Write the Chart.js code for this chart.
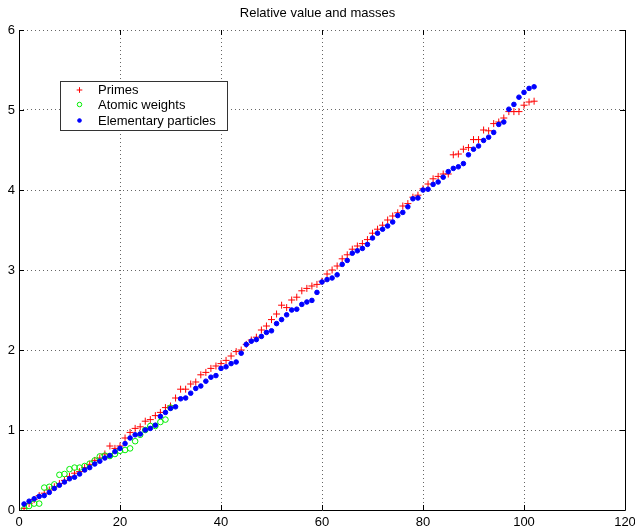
<!DOCTYPE html>
<html><head><meta charset="utf-8">
<script src="https://cdn.jsdelivr.net/npm/chart.js@4/dist/chart.umd.min.js"></script>
<style>html,body{margin:0;padding:0;background:#fff}#wrap{width:635px;height:532px}</style>
</head><body><div id="wrap"><canvas id="c" width="635" height="532"></canvas></div>
<script>
const chartTitle = 'Relative value and masses';
const seriesNames = ['Primes', 'Atomic weights', 'Elementary particles'];
const primes = [
  0.02, 0.08, 0.13, 0.18, 0.21, 0.25, 0.29, 0.33, 0.37, 0.42,
  0.46, 0.48, 0.53, 0.57, 0.62, 0.65, 0.70, 0.80, 0.77, 0.80,
  0.90, 0.97, 1.02, 1.04, 1.11, 1.13, 1.18, 1.22, 1.28, 1.30,
  1.40, 1.51, 1.51, 1.575, 1.60, 1.69, 1.72, 1.77, 1.80, 1.83,
  1.87, 1.925, 1.98, 2.00, 2.07, 2.125, 2.16, 2.25, 2.30, 2.38,
  2.45, 2.56, 2.53, 2.625, 2.66, 2.74, 2.77, 2.80, 2.82, 2.86,
  2.95, 3.00, 3.05, 3.14, 3.19, 3.26, 3.30, 3.33, 3.38, 3.46,
  3.51, 3.56, 3.625, 3.675, 3.715, 3.80, 3.83, 3.91, 3.935, 4.015,
  4.075, 4.14, 4.17, 4.20, 4.20, 4.44, 4.45, 4.51, 4.53, 4.63,
  4.63, 4.75, 4.74, 4.83, 4.85, 4.90, 4.98, 4.98, 4.98, 5.06,
  5.10, 5.11
];
const atomicWeights = [
  0.01, 0.05, 0.08, 0.08, 0.28, 0.29, 0.32, 0.44, 0.45, 0.51,
  0.53, 0.53, 0.55, 0.58, 0.62, 0.67, 0.68, 0.675, 0.70, 0.74,
  0.75, 0.77, 0.86, 0.94, 1.00, 1.05, 1.05, 1.10, 1.13, 1.28
];
const elementaryParticles = [
  0.075, 0.11, 0.14, 0.17, 0.18, 0.22, 0.27, 0.31, 0.35, 0.39,
  0.41, 0.45, 0.50, 0.53, 0.575, 0.61, 0.65, 0.68, 0.73, 0.77,
  0.83, 0.90, 0.94, 0.95, 1.00, 1.02, 1.06, 1.17, 1.22, 1.27,
  1.29, 1.39, 1.40, 1.46, 1.52, 1.55, 1.61, 1.66, 1.68, 1.77,
  1.79, 1.83, 1.85, 1.96, 2.07, 2.11, 2.13, 2.17, 2.22, 2.24,
  2.33, 2.38, 2.44, 2.50, 2.51, 2.57, 2.60, 2.62, 2.72, 2.85,
  2.88, 2.90, 2.94, 3.07, 3.12, 3.21, 3.24, 3.27, 3.32, 3.40,
  3.46, 3.51, 3.55, 3.60, 3.68, 3.72, 3.79, 3.89, 3.90, 4.00,
  4.01, 4.07, 4.10, 4.16, 4.23, 4.27, 4.29, 4.33, 4.44, 4.51,
  4.55, 4.62, 4.66, 4.72, 4.82, 4.85, 5.01, 5.07, 5.16, 5.22,
  5.27, 5.29
];
const xTicks = [0, 20, 40, 60, 80, 100, 120];
const yTicks = [0, 1, 2, 3, 4, 5, 6];

const FONT = '"Liberation Sans", Arial, Helvetica, sans-serif';
const toPts = arr => arr.map((v, i) => ({x: i + 1, y: v}));

const datasets = [
  {label: seriesNames[0], data: toPts(primes), pointStyle: 'cross', pointRadius: 3.5,
   borderColor: '#ff0000', backgroundColor: '#ff0000', pointBorderWidth: 1, order: 3, showLine: false},
  {label: seriesNames[1], data: toPts(atomicWeights), pointStyle: 'circle', pointRadius: 2.8,
   borderColor: '#00ee00', backgroundColor: 'rgba(0,0,0,0)', pointBorderWidth: 1, order: 2, showLine: false},
  {label: seriesNames[2], data: toPts(elementaryParticles), pointStyle: 'circle', pointRadius: 2.3,
   borderColor: '#0000ff', backgroundColor: '#0000ff', pointBorderWidth: 1, order: 1, showLine: false}
];

const framePlugin = {
  id: 'frame',
  afterDraw(chart) {
    const ctx = chart.ctx, a = chart.chartArea;
    const xs = chart.scales.x, ys = chart.scales.y;
    ctx.save();
    ctx.strokeStyle = '#000';
    ctx.lineWidth = 1;
    ctx.beginPath();
    ctx.moveTo(Math.round(a.left) + 0.5, a.top);
    ctx.lineTo(Math.round(a.left) + 0.5, Math.round(a.bottom) + 0.5);
    ctx.lineTo(Math.round(a.right) + 0.5, Math.round(a.bottom) + 0.5);
    ctx.lineTo(Math.round(a.right) + 0.5, a.top);
    xTicks.forEach(v => {
      const p = Math.round(xs.getPixelForValue(v)) + 0.5;
      ctx.moveTo(p, a.bottom); ctx.lineTo(p, a.bottom - 5);
      ctx.moveTo(p, a.top); ctx.lineTo(p, a.top + 5);
    });
    yTicks.forEach(v => {
      const p = Math.round(ys.getPixelForValue(v)) + 0.5;
      ctx.moveTo(a.left, p); ctx.lineTo(a.left + 5, p);
      ctx.moveTo(a.right, p); ctx.lineTo(a.right - 5, p);
    });
    ctx.stroke();

    // legend
    const lx = 60.5, ly = 81.5, lw = 167, lh = 49;
    ctx.fillStyle = '#fff';
    ctx.fillRect(lx, ly, lw, lh);
    ctx.strokeStyle = '#333';
    ctx.strokeRect(lx, ly, lw, lh);
    const rows = [90, 104.5, 120.5];
    ctx.font = '13px ' + FONT;
    ctx.textBaseline = 'middle';
    ctx.textAlign = 'left';
    chart.data.datasets.forEach((ds, i) => {
      ctx.strokeStyle = ds.borderColor;
      ctx.fillStyle = ds.backgroundColor;
      ctx.lineWidth = 1;
      Chart.helpers.drawPoint(ctx, {pointStyle: ds.pointStyle, radius: ds.pointRadius * 0.8, rotation: 0, borderWidth: 1}, 79.5, rows[i]);
      ctx.fillStyle = '#000';
      ctx.fillText(ds.label, 98, rows[i] + 0.5);
    });
    ctx.restore();
  }
};

new Chart(document.getElementById('c'), {
  type: 'scatter',
  data: {datasets},
  options: {
    responsive: false,
    animation: false,
    devicePixelRatio: 1,
    layout: {padding: {left: 0, right: 0, top: 0, bottom: 0}},
    plugins: {
      legend: {display: false},
      tooltip: {enabled: false},
      title: {display: true, text: chartTitle, color: '#000',
              font: {family: FONT, size: 13, weight: 'normal'},
              padding: {top: 6, bottom: 8.4}}
    },
    scales: {
      x: {type: 'linear', min: 0, max: 120,
          afterBuildTicks: s => { s.ticks = xTicks.map(v => ({value: v})); },
          afterFit: s => { s.height = 22; s.paddingRight = 10; s.paddingLeft = 0; },
          ticks: {color: '#000', font: {family: FONT, size: 13}, padding: 5, maxRotation: 0, autoSkip: false},
          grid: {color: '#666', drawTicks: false, lineWidth: 1},
          border: {display: false, dash: [1, 3]}},
      y: {type: 'linear', min: 0, max: 6,
          afterBuildTicks: s => { s.ticks = yTicks.map(v => ({value: v})); },
          afterFit: s => { s.width = 19; },
          ticks: {color: '#000', font: {family: FONT, size: 13}, padding: 4, autoSkip: false},
          grid: {color: '#666', drawTicks: false, lineWidth: 1},
          border: {display: false, dash: [1, 3]}}
    }
  },
  plugins: [framePlugin]
});
</script>
</body></html>
